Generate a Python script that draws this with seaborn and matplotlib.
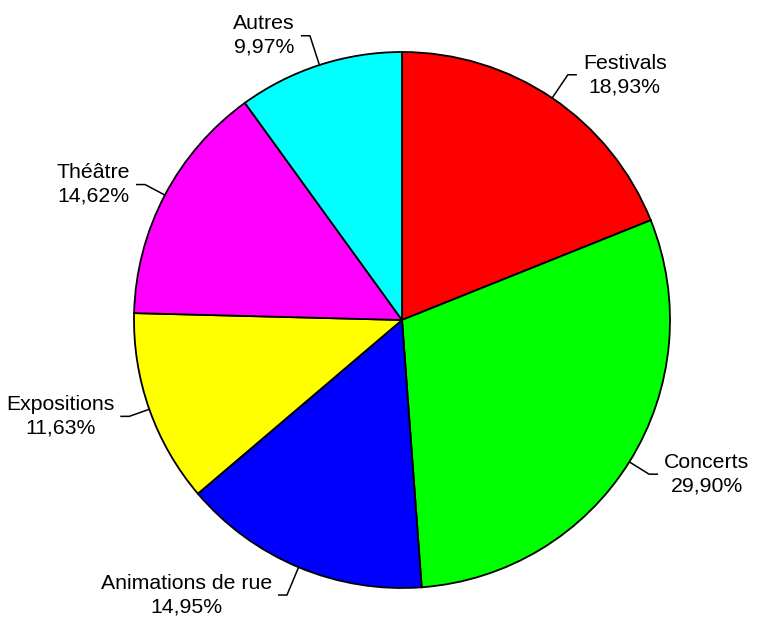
import numpy as np
import matplotlib
matplotlib.use("Agg")
import matplotlib.pyplot as plt
import seaborn as sns

categories = ["Festivals", "Concerts", "Animations de rue", "Expositions", "Théâtre", "Autres"]
values = [18.93, 29.90, 14.95, 11.63, 14.62, 9.97]
pct_labels = ["18,93%", "29,90%", "14,95%", "11,63%", "14,62%", "9,97%"]
colors = ["#FF0000", "#00FF00", "#0000FF", "#FFFF00", "#FF00FF", "#00FFFF"]

sns.set_style("white")
plt.rcParams['font.family'] = ['Liberation Sans', 'DejaVu Sans']

W, H, DPI = 757, 621, 100
fig = plt.figure(figsize=(W / DPI, H / DPI), dpi=DPI)
ax = fig.add_axes([0, 0, 1, 1])
R_px = 268.0
cx, cy = 402.0, 320.0

wedges, _ = ax.pie(values, colors=colors, startangle=90, counterclock=False,
                   radius=1.0, center=(0, 0),
                   wedgeprops=dict(edgecolor='black', linewidth=1.3))
ax.set_xlim(-cx / R_px, (W - cx) / R_px)
ax.set_ylim(-(H - cy) / R_px, cy / R_px)
ax.set_aspect('equal')
ax.axis('off')

# elbow points lie on an ellipse around the pie
ea, eb = 288 / R_px, 300 / R_px
h_len = 9 / R_px
gap = 6 / R_px
for w, cat, pl in zip(wedges, categories, pct_labels):
    ang = np.deg2rad((w.theta1 + w.theta2) / 2)
    x0, y0 = np.cos(ang), np.sin(ang)
    t = 1.0 / np.sqrt((x0 / ea) ** 2 + (y0 / eb) ** 2)
    x1, y1 = t * x0, t * y0
    side = 1 if x0 >= 0 else -1
    x2 = x1 + side * h_len
    ax.plot([x0, x1, x2], [y0, y1, y1], color='black', lw=1.1, solid_capstyle='butt')
    ax.text(x2 + side * gap, y1, f"{cat}\n{pl}", ha='left' if side > 0 else 'right',
            va='center', multialignment='center', fontsize=15.3, color='black',
            linespacing=1.3)

fig.savefig("out.png", dpi=DPI)
